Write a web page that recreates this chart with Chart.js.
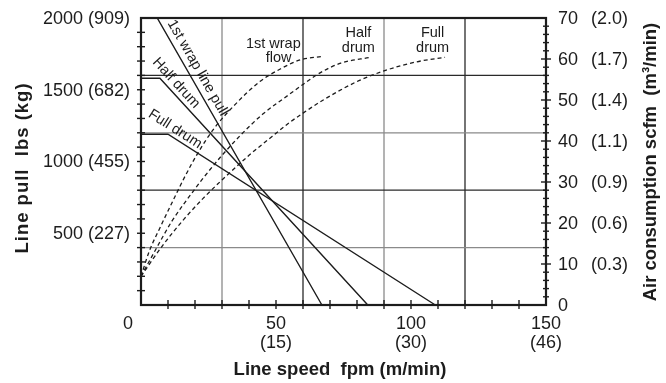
<!DOCTYPE html>
<html>
<head>
<meta charset="utf-8">
<script src="https://cdn.jsdelivr.net/npm/chart.js@4/dist/chart.umd.min.js"></script>
<style>
  html, body { margin: 0; padding: 0; background: #fff; }
  #wrap { width: 666px; height: 383px; }
</style>
</head>
<body>
<div id="wrap"><canvas id="ch" width="666" height="383"></canvas></div>
<script>
/* ── Data ────────────────────────────────────────────────── */

// axis ranges + tick labels
const SPEED_MAX = 150, PULL_MAX = 2000, AIR_MAX = 70;
const speedLabels   = [0, 50, 100, 150];
const speedMetric   = ['', '(15)', '(30)', '(46)'];
const pullLabels    = [500, 1000, 1500, 2000];
const pullMetric    = ['(227)', '(455)', '(682)', '(909)'];
const airLabels     = [0, 10, 20, 30, 40, 50, 60, 70];
const airMetric     = ['', '(0.3)', '(0.6)', '(0.9)', '(1.1)', '(1.4)', '(1.7)', '(2.0)'];
const speedGrid     = [30, 60, 90, 120];
const pullGrid      = [400, 800, 1200, 1600];

// line pull (lbs) vs speed (fpm)
const wrapPullSpeed = [0, 6, 67];
const wrapPullLbs   = [2000, 2000, 0];
const halfPullSpeed = [0, 7, 84];
const halfPullLbs   = [1580, 1580, 0];
const fullPullSpeed = [0, 10, 109];
const fullPullLbs   = [1190, 1190, 0];

// air consumption (scfm) vs speed (fpm)
const wrapFlowSpeed = [0, 3, 7, 13, 16, 21, 27, 35, 44, 52, 59, 67];
const wrapFlowScfm  = [7, 13, 18.8, 27, 31, 37, 43, 49, 54.5, 57.7, 59.8, 60.6];
const halfFlowSpeed = [0, 5, 11.5, 19.4, 22.5, 30, 37, 45, 55, 60, 66, 74, 85];
const halfFlowScfm  = [7, 13, 20.5, 27.8, 30.5, 36.5, 41.5, 46.5, 51.4, 53.8, 56.5, 59, 60.4];
const fullFlowSpeed = [0, 8, 16, 23, 30, 40, 47, 55, 60, 67.5, 80, 90, 102, 112.6];
const fullFlowScfm  = [7, 14.5, 21, 26, 30.5, 36.5, 40.3, 44.5, 46.8, 50, 54.5, 57.1, 59.3, 60.4];

/* ── helpers ── */
const FONT = "'Liberation Sans', Arial, Helvetica, sans-serif";
const INK  = '#1c1c1c';

const pts = (xs, ys) => xs.map((x, i) => ({ x, y: ys[i] }));

function solid(xs, ys) {
  return { data: pts(xs, ys), yAxisID: 'y', borderColor: INK, borderWidth: 1.4,
           showLine: true, pointRadius: 0, clip: false };
}
function dashed(xs, ys) {
  return { data: pts(xs, ys), yAxisID: 'y2', borderColor: INK, borderWidth: 1.3,
           borderDash: [4, 3], showLine: true, pointRadius: 0,
           cubicInterpolationMode: 'monotone', clip: false };
}

function line(ctx, x1, y1, x2, y2) {
  ctx.beginPath(); ctx.moveTo(x1, y1); ctx.lineTo(x2, y2); ctx.stroke();
}

// rotated label centred at a data point, angle taken from a line's pixel slope
function alongLabel(ctx, chart, text, sx, sy, xs, ys) {
  const x = chart.scales.x, y = chart.scales.y;
  const a = Math.atan2(y.getPixelForValue(ys[2]) - y.getPixelForValue(ys[1]),
                       x.getPixelForValue(xs[2]) - x.getPixelForValue(xs[1]));
  ctx.save();
  ctx.translate(x.getPixelForValue(sx), y.getPixelForValue(sy));
  ctx.rotate(a);
  ctx.fillText(text, 0, 0);
  ctx.restore();
}

/* ── grid + frame plugin ── */
const gridPlugin = {
  id: 'grid',
  beforeDatasetsDraw(chart) {
    const { ctx, chartArea: a, scales } = chart;
    ctx.save();
    ctx.lineWidth = 1.3;
    speedGrid.forEach((v, i) => {
      ctx.strokeStyle = i % 2 ? '#2a2a2a' : '#8a8a8a';
      const p = scales.x.getPixelForValue(v);
      line(ctx, p, a.top, p, a.bottom);
    });
    pullGrid.forEach((v, i) => {
      ctx.strokeStyle = i % 2 ? '#2a2a2a' : '#8a8a8a';
      const p = scales.y.getPixelForValue(v);
      line(ctx, a.left, p, a.right, p);
    });
    ctx.restore();
  },
  afterDatasetsDraw(chart) {
    const { ctx, chartArea: a, scales } = chart;
    const sx = scales.x, sy = scales.y, s2 = scales.y2;
    ctx.save();
    ctx.strokeStyle = INK;
    ctx.fillStyle = INK;

    // frame
    ctx.lineWidth = 2.2;
    ctx.strokeRect(a.left, a.top, a.right - a.left, a.bottom - a.top);

    // tick marks
    ctx.lineWidth = 1.4;
    for (let v = 10; v < SPEED_MAX; v += 10) {
      const p = sx.getPixelForValue(v);
      line(ctx, p, a.bottom - 5, p, a.bottom + 4);
    }
    for (let v = 100; v < PULL_MAX; v += 100) {
      const p = sy.getPixelForValue(v);
      line(ctx, a.left - 4, p, a.left + 4, p);
    }
    for (let v = 2; v < AIR_MAX; v += 2) {
      const p = s2.getPixelForValue(v);
      const k = v % 10 === 0 ? 5 : 3;
      line(ctx, a.right - k, p, a.right + k, p);
    }

    // tick labels
    ctx.font = '18px ' + FONT;
    ctx.textBaseline = 'middle';
    ctx.textAlign = 'right';
    pullLabels.forEach((v, i) => {
      ctx.fillText(v + ' ' + pullMetric[i], a.left - 11, sy.getPixelForValue(v) + 1);
    });
    ctx.textAlign = 'left';
    airLabels.forEach((v, i) => {
      const p = s2.getPixelForValue(v) + 1;
      ctx.fillText(String(v), a.right + 12, p);
      if (airMetric[i]) ctx.fillText(airMetric[i], a.right + 45, p);
    });
    ctx.textAlign = 'center';
    speedLabels.forEach((v, i) => {
      const p = sx.getPixelForValue(v) - (v === 0 ? 13 : 0);
      ctx.fillText(String(v), p, a.bottom + 19);
      if (speedMetric[i]) ctx.fillText(speedMetric[i], p, a.bottom + 38);
    });

    // axis titles
    ctx.font = 'bold 18.5px ' + FONT;
    ctx.fillText('Line speed  fpm (m/min)', 340, 370);
    ctx.save();
    ctx.translate(23, 168);
    ctx.rotate(-Math.PI / 2);
    ctx.letterSpacing = '1px';
    ctx.fillText('Line pull  lbs (kg)', 0, 0);
    ctx.restore();
    ctx.save();
    ctx.translate(651, 162);
    ctx.rotate(-Math.PI / 2);
    ctx.fillText('Air consumption scfm  (m\u00b3/min)', 0, 0);
    ctx.restore();

    // curve labels
    ctx.font = '14.5px ' + FONT;
    ctx.fillText('1st wrap', sx.getPixelForValue(49), 44);
    ctx.fillText('flow', sx.getPixelForValue(51), 58);
    ctx.fillText('Half', sx.getPixelForValue(80.5), 33);
    ctx.fillText('drum', sx.getPixelForValue(80.5), 48);
    ctx.fillText('Full', sx.getPixelForValue(108), 33);
    ctx.fillText('drum', sx.getPixelForValue(108), 48);

    alongLabel(ctx, chart, '1st wrap line pull', 21, 1652, wrapPullSpeed, wrapPullLbs);
    alongLabel(ctx, chart, 'Half drum', 13, 1547, halfPullSpeed, halfPullLbs);
    alongLabel(ctx, chart, 'Full drum', 12.6, 1226, fullPullSpeed, fullPullLbs);
    ctx.restore();
  }
};

/* ── Chart ── */
new Chart(document.getElementById('ch'), {
  type: 'scatter',
  data: {
    datasets: [
      solid(wrapPullSpeed, wrapPullLbs),
      solid(halfPullSpeed, halfPullLbs),
      solid(fullPullSpeed, fullPullLbs),
      dashed(wrapFlowSpeed, wrapFlowScfm),
      dashed(halfFlowSpeed, halfFlowScfm),
      dashed(fullFlowSpeed, fullFlowScfm),
    ]
  },
  options: {
    responsive: false, animation: false,
    layout: { padding: { left: 141, right: 120, top: 18, bottom: 78 } },
    plugins: { legend: { display: false }, tooltip: { enabled: false } },
    scales: {
      x:  { type: 'linear', min: 0, max: SPEED_MAX, display: false },
      y:  { type: 'linear', min: 0, max: PULL_MAX, display: false },
      y2: { type: 'linear', min: 0, max: AIR_MAX, display: false, position: 'right' },
    }
  },
  plugins: [gridPlugin]
});
</script>
</body>
</html>
